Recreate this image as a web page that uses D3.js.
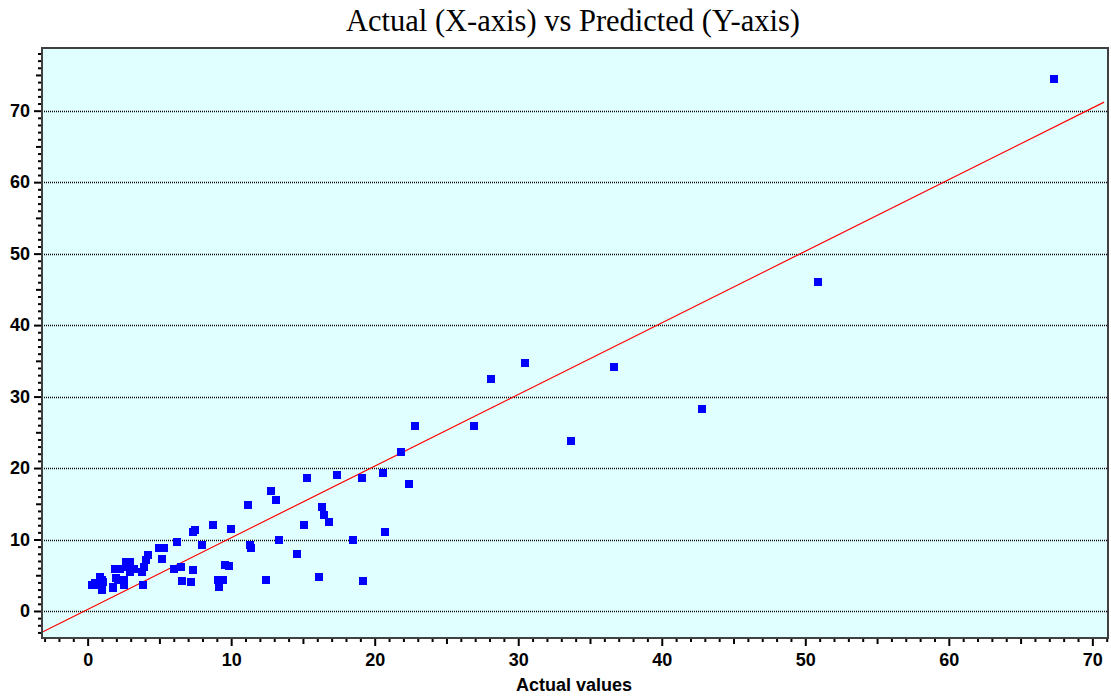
<!DOCTYPE html>
<html><head><meta charset="utf-8">
<script src="https://cdn.jsdelivr.net/npm/d3@7"></script>
<style>body{margin:0;background:#fff}svg{display:block}</style>
</head><body>
<svg id="c" width="1111" height="698"></svg>
<script>
// ---- data ----
const actual = [67.3,50.9,42.8,36.7,33.7,30.5,28.1,26.9,22.8,21.8,20.6,19.1,17.4,15.3,22.4,12.8,13.1,11.2,16.3,16.5,16.8,8.7,9.97,15.1,7.5,7.35,20.7,13.3,18.5,8.0,11.3,11.4,14.6,9.57,9.87,9.1,9.45,9.15,12.4,16.1,19.2,6.2,5.0,5.3,5.18,6.0,6.5,7.36,6.55,7.18,3.83,
  4.2,4.1,3.9,3.76,2.7,2.95,2.8,3.2,2.95,1.9,2.25,2.0,2.1,2.5,2.5,1.8,1.8,0.86,0.97,1.1,0.28,0.63,0.5,0.98,1.0];
const predicted = [74.4,46.0,28.2,34.1,23.8,34.7,32.4,25.9,25.9,22.3,19.3,18.6,19.0,18.6,17.8,16.8,15.5,14.8,14.6,13.4,12.5,12.1,11.5,12.1,11.3,11.0,11.1,10.0,10.0,9.2,9.2,8.8,8.0,6.5,6.3,4.4,4.4,3.4,4.4,4.8,4.2,9.65,8.8,8.8,7.3,5.9,6.2,5.8,4.2,4.0,3.6,
  7.8,7.1,6.2,5.5,6.9,6.9,6.2,5.9,5.5,5.9,5.9,4.6,4.3,4.3,3.6,3.4,3.2,4.8,4.3,4.0,3.6,3.6,3.9,3.2,3.0];
const fitLineX = [-3.11, 70.82];
const fitLineY = [-2.9, 71.2];
const xTickLabels = [0,10,20,30,40,50,60,70];
const yTickLabels = [0,10,20,30,40,50,60,70];
const title = "Actual (X-axis) vs Predicted (Y-axis)";
const xTitle = "Actual values";

// ---- layout ----
const L = 42, R = 1108, T = 48, B = 638;
const x = d3.scaleLinear().domain([-3.18, 71.09]).range([L, R]);
const y = d3.scaleLinear().domain([-3.78, 78.77]).range([B, T]);
const svg = d3.select("#c");

svg.append("rect").attr("x", L).attr("y", T).attr("width", R - L).attr("height", B - T)
  .attr("fill", "#e0ffff");

// grid
svg.append("g").selectAll("line").data(yTickLabels).join("line")
  .attr("x1", L).attr("x2", R)
  .attr("y1", d => Math.round(y(d)) + 0.5).attr("y2", d => Math.round(y(d)) + 0.5)
  .attr("stroke", "#000").attr("stroke-width", 1.3).attr("stroke-dasharray", "1,1");

// fit line
svg.append("line")
  .attr("x1", x(fitLineX[0])).attr("y1", y(fitLineY[0]))
  .attr("x2", x(fitLineX[1])).attr("y2", y(fitLineY[1]))
  .attr("stroke", "#ff0000").attr("stroke-width", 1.2);

// points
svg.append("g").selectAll("rect").data(actual.map((a, i) => [a, predicted[i]])).join("rect")
  .attr("x", d => Math.round(x(d[0])) - 4).attr("y", d => Math.round(y(d[1])) - 4)
  .attr("width", 8).attr("height", 8).attr("fill", "#0000ff");

// frame
svg.append("rect").attr("x", L).attr("y", T).attr("width", R - L).attr("height", B - T)
  .attr("fill", "none").attr("stroke", "#404040").attr("stroke-width", 2);

// ticks
const xMinor = d3.range(-3, 72).filter(v => v % 5 !== 0);
const xMed = d3.range(5, 71, 10);
const yMinor = d3.range(-3, 79).filter(v => v % 5 !== 0);
const yMed = d3.range(5, 80, 10);

function axisStyle(g) {
  g.select(".domain").remove();
  g.selectAll(".tick line").attr("stroke", "#000").attr("stroke-width", 2);
}
const xg = svg.append("g").attr("transform", `translate(0,${B + 1})`);
xg.append("g").call(d3.axisBottom(x).tickValues(xMinor).tickSize(3).tickFormat("")).call(axisStyle);
xg.append("g").call(d3.axisBottom(x).tickValues(xMed).tickSize(5).tickFormat("")).call(axisStyle);
xg.append("g").call(d3.axisBottom(x).tickValues(xTickLabels).tickSize(7).tickPadding(7)).call(axisStyle)
  .selectAll("text").attr("font-family", "Liberation Sans, Arial, sans-serif")
  .attr("font-size", 18).attr("font-weight", "bold").attr("fill", "#000");

const yg = svg.append("g").attr("transform", `translate(${L - 1},0)`);
yg.append("g").call(d3.axisLeft(y).tickValues(yMinor).tickSize(3).tickFormat("")).call(axisStyle);
yg.append("g").call(d3.axisLeft(y).tickValues(yMed).tickSize(5).tickFormat("")).call(axisStyle);
yg.append("g").call(d3.axisLeft(y).tickValues(yTickLabels).tickSize(7).tickPadding(4)).call(axisStyle)
  .selectAll("text").attr("font-family", "Liberation Sans, Arial, sans-serif")
  .attr("font-size", 18).attr("font-weight", "bold").attr("fill", "#000");

// titles
svg.append("text").attr("x", 573).attr("y", 31).attr("text-anchor", "middle")
  .attr("font-family", "Liberation Serif, Times New Roman, serif").attr("font-size", 30.5)
  .attr("fill", "#000").text(title);
svg.append("text").attr("x", 574).attr("y", 691).attr("text-anchor", "middle")
  .attr("font-family", "Liberation Sans, Arial, sans-serif").attr("font-size", 18)
  .attr("font-weight", "bold").attr("fill", "#000").text(xTitle);
</script>
</body></html>
